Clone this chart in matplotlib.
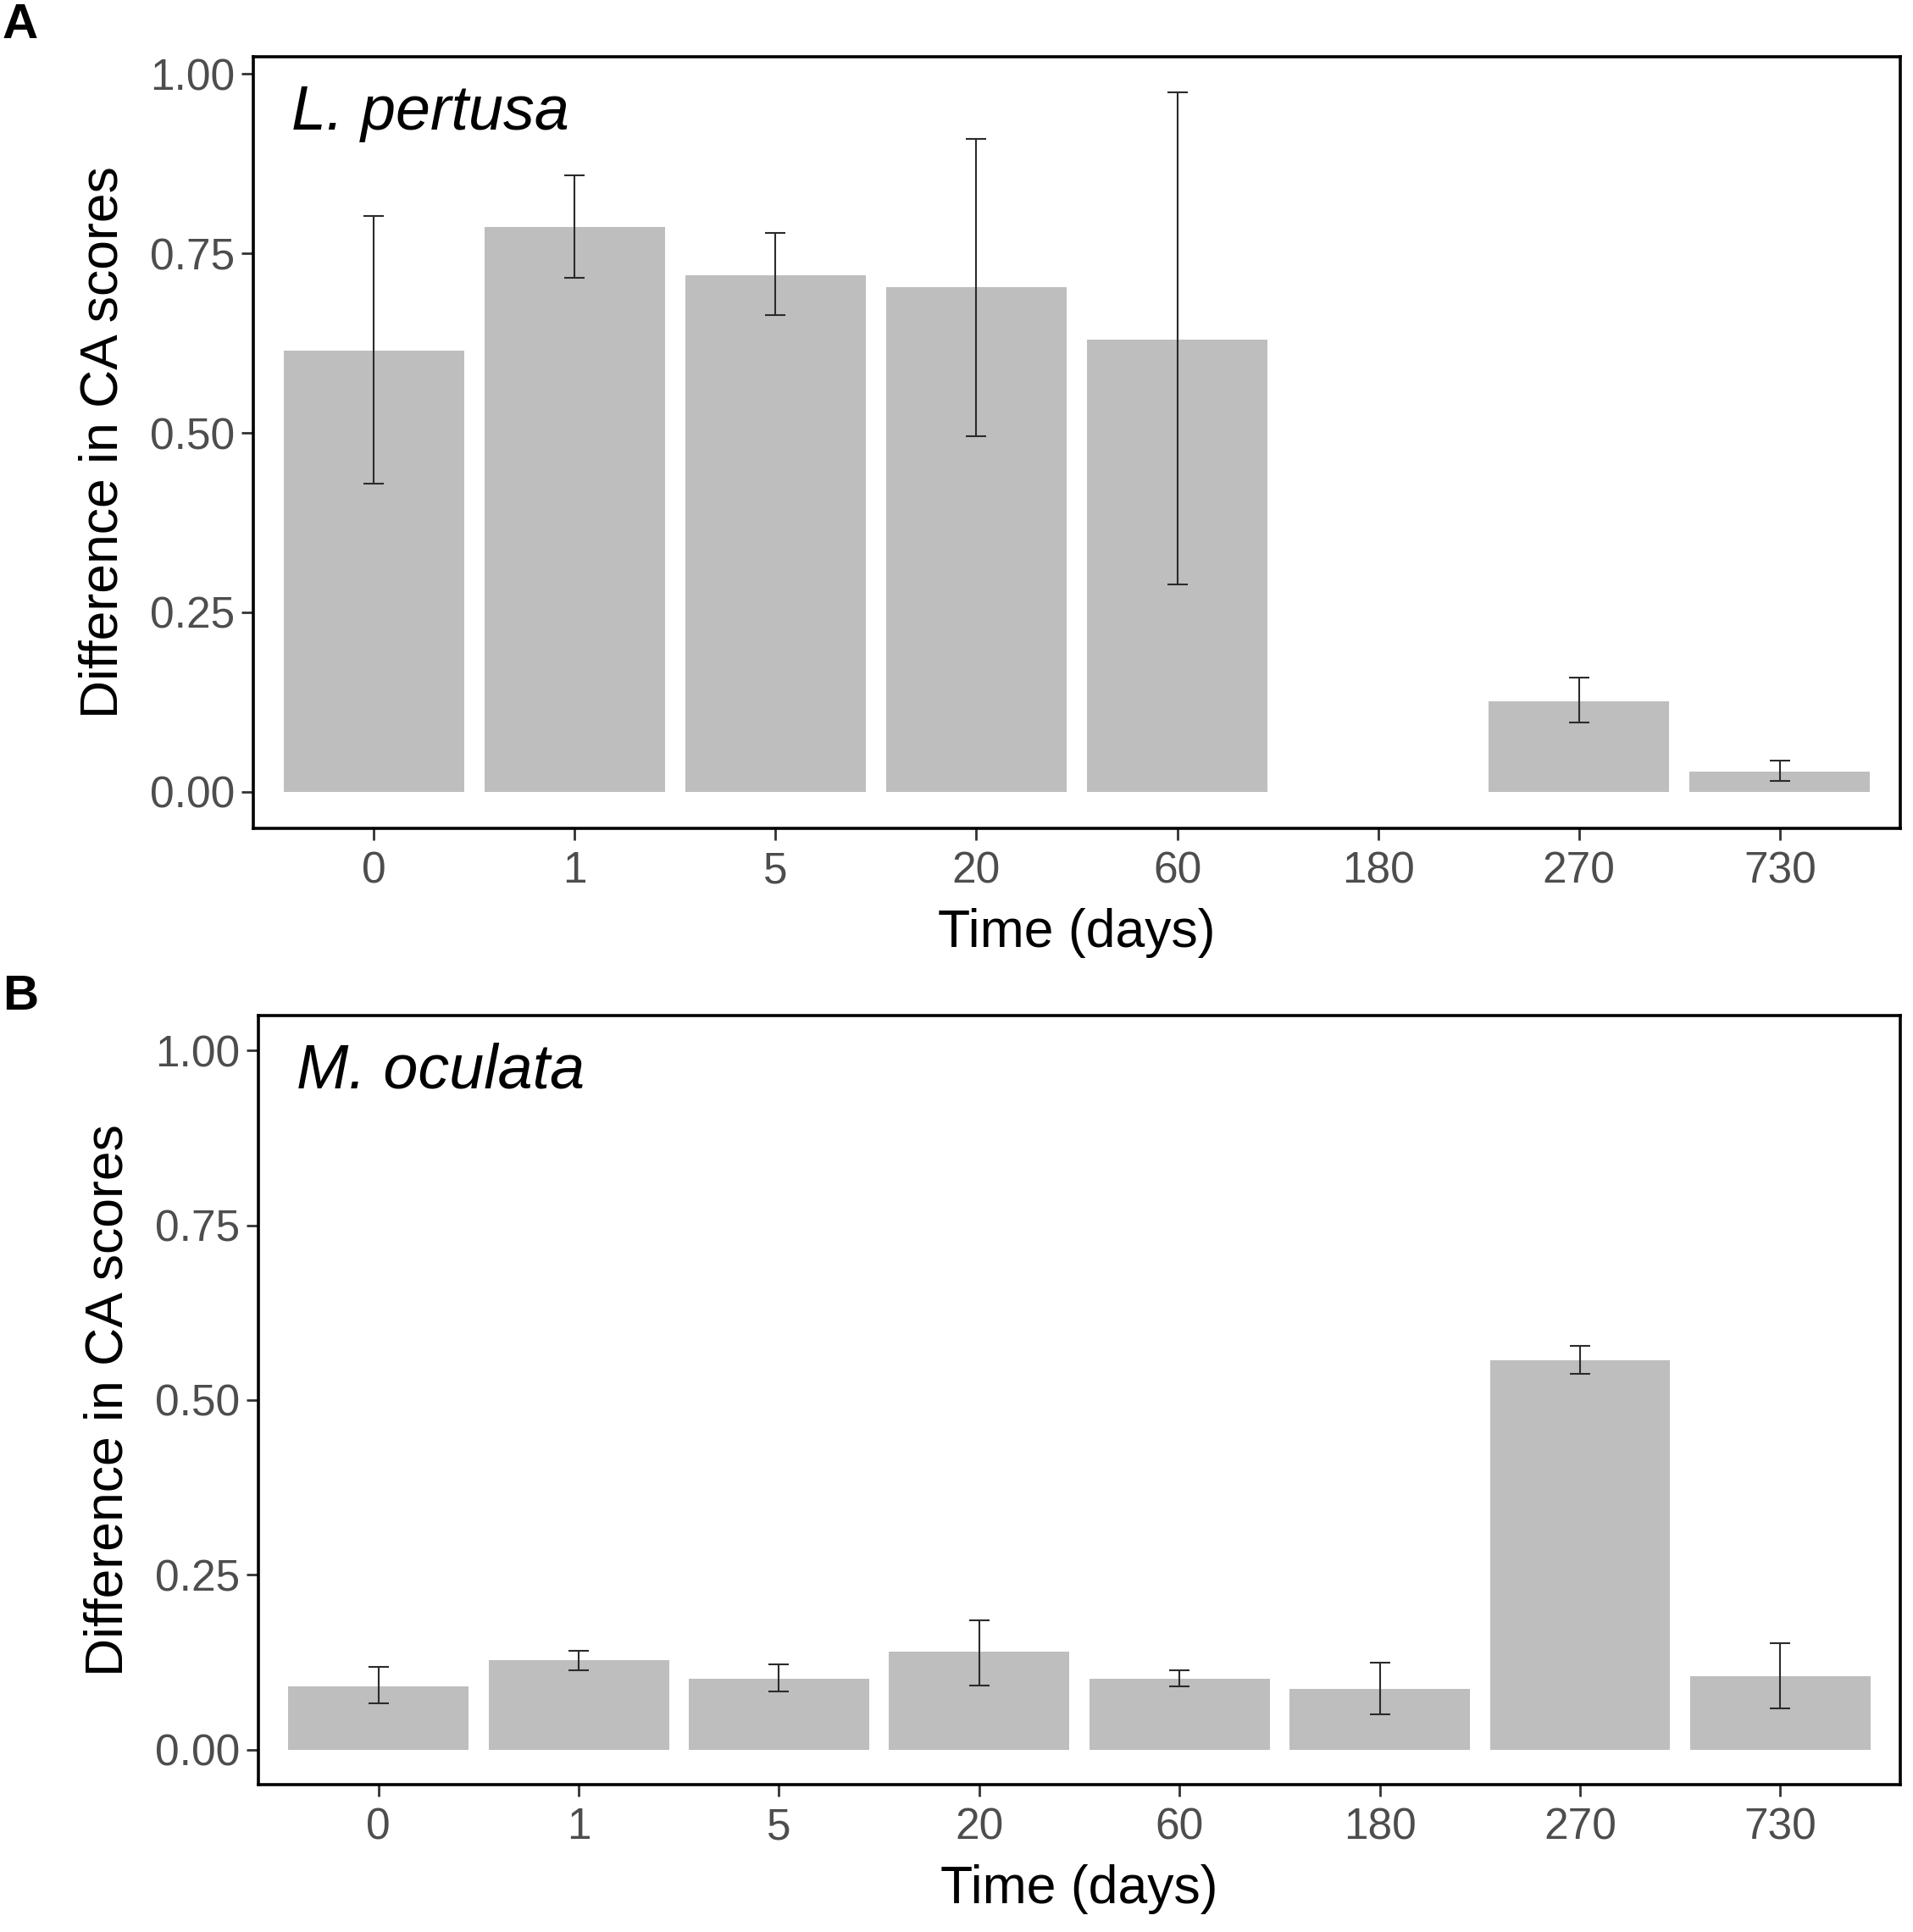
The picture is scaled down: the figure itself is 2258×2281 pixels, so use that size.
import numpy as np
import matplotlib
matplotlib.use("Agg")
import matplotlib.pyplot as plt

plt.rcParams['font.family'] = ['Liberation Sans', 'DejaVu Sans']

# categories (days)
time_labels = ["0", "1", "5", "20", "60", "180", "270", "730"]

# panel A: L. pertusa (no data at 180 days)
pertusa_mean = [0.615, 0.787, 0.719, 0.703, 0.630, np.nan, 0.126, 0.028]
pertusa_lo = [0.429, 0.716, 0.664, 0.495, 0.289, np.nan, 0.097, 0.015]
pertusa_hi = [0.802, 0.859, 0.778, 0.910, 0.974, np.nan, 0.159, 0.043]

# panel B: M. oculata
oculata_mean = [0.091, 0.128, 0.102, 0.140, 0.101, 0.087, 0.557, 0.105]
oculata_lo = [0.066, 0.114, 0.083, 0.092, 0.090, 0.050, 0.537, 0.059]
oculata_hi = [0.118, 0.142, 0.122, 0.185, 0.113, 0.125, 0.578, 0.152]

W, H = 2258, 2281
fig = plt.figure(figsize=(W / 100, H / 100), dpi=100)


def panel(rect, mean, lo, hi, species, ylim, letter, letter_y):
    ax = fig.add_axes(rect)
    x = np.arange(len(time_labels))
    mean = np.array(mean, dtype=float)
    lo = np.array(lo, dtype=float)
    hi = np.array(hi, dtype=float)
    ok = ~np.isnan(mean)
    ax.bar(x[ok], mean[ok], width=0.9, color="#bebebe", zorder=1)
    ax.errorbar(x[ok], mean[ok], yerr=[mean[ok] - lo[ok], hi[ok] - mean[ok]],
                fmt="none", ecolor="#2b2b2b", elinewidth=1.5, capsize=8.5,
                capthick=1.5, zorder=2)
    ax.set_xlim(-0.6, len(time_labels) - 0.4)
    ax.set_ylim(*ylim)
    ax.set_xticks(x)
    ax.set_xticklabels(time_labels)
    ax.set_yticks([0, 0.25, 0.5, 0.75, 1.0])
    ax.set_yticklabels(["0.00", "0.25", "0.50", "0.75", "1.00"])
    for s in ax.spines.values():
        s.set_linewidth(2.6)
        s.set_color("black")
    ax.tick_params(axis="both", length=10, width=2.0, color="#333333",
                   labelsize=37, labelcolor="#4d4d4d", pad=6)
    ax.tick_params(axis="x", pad=9)
    ax.set_xlabel("Time (days)", fontsize=45, color="black")
    ax.set_ylabel("Difference in CA scores", fontsize=45, color="black")
    ax.xaxis.set_label_coords(0.5, -0.103)
    ax.yaxis.set_label_coords(-0.076, 0.5)
    ax.text(0.023, 0.906, species, transform=ax.transAxes, fontsize=53,
            style="italic", va="baseline", ha="left")
    fig.text(3 / W, 1 - letter_y / H, letter, fontsize=42, fontweight="bold",
             va="top", ha="left")
    return ax


panel([299 / W, 1 - 978 / H, (2243 - 299) / W, (978 - 67) / H],
      pertusa_mean, pertusa_lo, pertusa_hi, "L. pertusa", (-0.051, 1.024),
      "A", 3)
panel([305 / W, 1 - 2107 / H, (2243 - 305) / W, (2107 - 1199) / H],
      oculata_mean, oculata_lo, oculata_hi, "M. oculata", (-0.05, 1.05),
      "B", 1150)

fig.savefig("out.png", dpi=100, facecolor="white")
